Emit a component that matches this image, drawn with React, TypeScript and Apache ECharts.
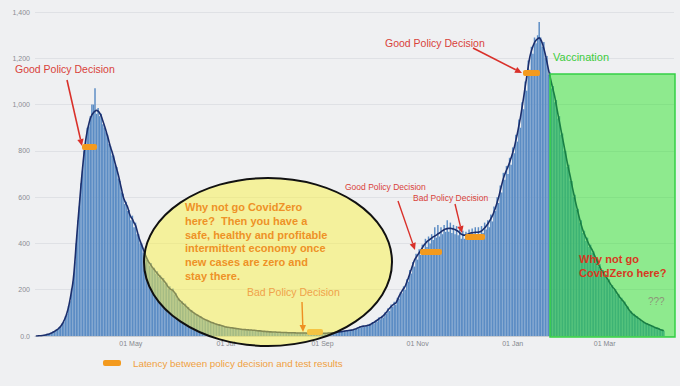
import React, { useEffect, useRef } from "react";
import * as echarts from "echarts";

// Daily new cases (bars), from 2020-03-01
const DAILY_CASES: number[] = [
  0, 0, 1, 2, 1, 3, 5, 5, 9, 11,
  12, 18, 19, 27, 28, 38, 40, 55, 60, 85,
  95, 130, 150, 205, 235, 320, 400, 500, 560, 660,
  715, 800, 830, 900, 905, 950, 1000, 1000, 1070, 960,
  985, 950, 960, 915, 900, 880, 870, 830, 820, 780,
  780, 740, 730, 680, 670, 620, 615, 570, 580, 540,
  545, 500, 520, 470, 490, 440, 440, 400, 400, 360,
  365, 330, 330, 305, 315, 290, 295, 270, 280, 255,
  262, 240, 250, 225, 230, 205, 215, 195, 205, 180,
  185, 160, 162, 145, 150, 132, 140, 120, 125, 108,
  112, 98, 100, 90, 92, 82, 84, 74, 76, 68,
  70, 62, 63, 56, 58, 51, 53, 47, 49, 43,
  45, 40, 41, 37, 38, 35, 36, 33, 34, 31,
  32, 29, 30, 27, 29, 26, 28, 25, 27, 24,
  26, 23, 24, 21, 23, 20, 21, 19, 20, 18,
  19, 17, 18, 16, 18, 16, 17, 15, 16, 14,
  16, 14, 15, 13, 15, 13, 15, 12, 14, 12,
  14, 12, 14, 12, 13, 11, 13, 11, 13, 11,
  13, 11, 13, 11, 13, 11, 13, 12, 14, 12,
  15, 13, 16, 15, 18, 17, 20, 19, 22, 21,
  24, 22, 27, 25, 30, 28, 36, 33, 42, 38,
  45, 40, 47, 43, 52, 48, 60, 54, 68, 62,
  80, 72, 88, 80, 102, 96, 120, 108, 136, 126,
  148, 135, 165, 160, 190, 185, 215, 200, 245, 235,
  285, 270, 320, 300, 355, 330, 375, 350, 395, 370,
  420, 385, 430, 400, 440, 415, 470, 425, 480, 430,
  470, 440, 480, 450, 500, 450, 490, 445, 480, 440,
  475, 435, 460, 420, 455, 420, 450, 425, 460, 430,
  465, 430, 470, 425, 470, 435, 475, 445, 490, 460,
  500, 470, 525, 495, 560, 540, 600, 575, 650, 620,
  705, 675, 735, 700, 770, 740, 815, 790, 870, 840,
  935, 900, 1010, 980, 1100, 1060, 1190, 1150, 1250, 1220,
  1290, 1265, 1300, 1357, 1290, 1250, 1270, 1200, 1210, 1130,
  1140, 1070, 1080, 1010, 1020, 940, 950, 870, 875, 800,
  800, 730, 740, 670, 670, 600, 610, 545, 550, 490,
  500, 445, 455, 410, 425, 385, 395, 360, 365, 330,
  335, 300, 310, 275, 285, 255, 265, 240, 245, 215,
  220, 198, 202, 178, 182, 158, 165, 145, 148, 125,
  128, 105, 108, 92, 96, 82, 85, 72, 74, 62,
  64, 54, 56, 48, 50, 42, 44, 37, 38, 32,
  33, 26, 28, 23,
];

// Smoothed trend (line)
const TREND: number[] = [
  0, 0, 1, 1, 2, 3, 4, 6, 8, 10,
  13, 16, 20, 24, 29, 35, 42, 52, 65, 80,
  100, 125, 158, 197, 240, 315, 405, 490, 570, 650,
  725, 790, 845, 885, 915, 940, 955, 965, 972, 975,
  972, 963, 950, 930, 910, 888, 865, 840, 815, 795,
  770, 745, 720, 695, 665, 635, 605, 585, 570, 555,
  530, 515, 505, 490, 478, 455, 430, 410, 392, 375,
  355, 340, 325, 315, 305, 295, 287, 278, 270, 262,
  255, 248, 240, 232, 222, 212, 205, 200, 196, 188,
  178, 166, 156, 150, 143, 137, 131, 125, 118, 112,
  107, 102, 97, 93, 89, 85, 81, 77, 73, 70,
  67, 64, 61, 58, 56, 53, 51, 49, 47, 45,
  43, 41, 39, 38, 37, 36, 35, 34, 33, 32,
  31, 30, 29, 28, 28, 27, 27, 26, 26, 25,
  25, 24, 23, 22, 22, 21, 20, 20, 19, 19,
  18, 18, 17, 17, 17, 16, 16, 16, 15, 15,
  15, 15, 14, 14, 14, 14, 14, 13, 13, 13,
  13, 13, 13, 13, 12, 12, 12, 12, 12, 12,
  12, 12, 12, 12, 12, 12, 12, 12, 13, 13,
  14, 14, 15, 16, 17, 18, 19, 20, 21, 22,
  23, 24, 25, 26, 28, 30, 33, 36, 39, 41,
  42, 43, 44, 46, 48, 51, 55, 59, 63, 68,
  73, 78, 82, 88, 95, 103, 112, 120, 127, 134,
  139, 143, 155, 170, 183, 195, 205, 215, 232, 250,
  270, 290, 310, 328, 340, 350, 360, 370, 381, 392,
  400, 408, 413, 418, 423, 428, 432, 436, 441, 445,
  450, 455, 459, 462, 464, 465, 465, 464, 462, 460,
  456, 452, 446, 440, 437, 436, 437, 440, 442, 445,
  446, 447, 448, 448, 449, 450, 454, 460, 467, 475,
  484, 495, 507, 520, 537, 555, 577, 600, 627, 655,
  680, 700, 716, 732, 750, 770, 792, 815, 845, 875,
  910, 946, 988, 1030, 1076, 1120, 1165, 1206, 1232, 1252,
  1268, 1278, 1284, 1288, 1280, 1265, 1242, 1215, 1183, 1150,
  1120, 1090, 1062, 1033, 997, 960, 925, 890, 855, 820,
  785, 750, 718, 687, 652, 620, 590, 560, 532, 505,
  480, 458, 440, 425, 410, 395, 383, 372, 356, 340,
  325, 310, 297, 285, 275, 265, 255, 245, 233, 222,
  212, 205, 195, 185, 175, 165, 157, 150, 140, 130,
  120, 110, 102, 95, 90, 85, 80, 75, 70, 65,
  60, 56, 53, 50, 47, 44, 41, 38, 35, 33,
  30, 27, 25, 24,
];

const TOTAL_DAYS = 410; // axis extends a few days past the data
const START_UTC = Date.UTC(2020, 2, 1);
const MONTHS = ["Jan", "Feb", "Mar", "Apr", "May", "Jun", "Jul", "Aug", "Sep", "Oct", "Nov", "Dec"];
const DATES: string[] = Array.from({ length: TOTAL_DAYS }, (_, i) =>
  new Date(START_UTC + i * 86400000).toISOString().slice(0, 10)
);
const TICK_DATES = ["2020-05-01", "2020-07-01", "2020-09-01", "2020-11-01", "2021-01-01", "2021-03-01"];
const Y_TICKS = [0, 200, 400, 600, 800, 1000, 1200, 1400];

const FONT = '"Liberation Sans", Arial, sans-serif';
const RED = "#d9423a";
const ORANGE = "#ee9227";
const MARK = "#f39a1e";

function arrow(x1: number, y1: number, x2: number, y2: number, color: string, w = 1.6) {
  const a = Math.atan2(y2 - y1, x2 - x1);
  const L = 7, W = 3.2;
  const bx = x2 - L * Math.cos(a), by = y2 - L * Math.sin(a);
  return [
    { type: "line", z: 120, shape: { x1, y1, x2: bx, y2: by }, style: { stroke: color, lineWidth: w } },
    {
      type: "polygon", z: 120,
      shape: { points: [[x2, y2], [bx + W * Math.sin(a), by - W * Math.cos(a)], [bx - W * Math.sin(a), by + W * Math.cos(a)]] },
      style: { fill: color },
    },
  ];
}

function marker(x: number, y: number, w: number, color = MARK) {
  return { type: "rect", z: 121, shape: { x, y, width: w, height: 6, r: 2 }, style: { fill: color } };
}

function label(text: string, x: number, y: number, size: number, fill: string, weight = "normal", extra: any = {}) {
  return {
    type: "text", z: 122, x, y,
    style: { text, fill, fontSize: size, fontFamily: FONT, fontWeight: weight, align: "left", verticalAlign: "middle", ...extra },
  };
}

export default function App() {
  const ref = useRef<HTMLDivElement>(null);
  useEffect(() => {
    document.body.style.margin = "0";
    document.body.style.background = "#eff0f2";
    const chart = echarts.init(ref.current!, null, { renderer: "svg" });
    const isTick = (_i: number, v: string) => TICK_DATES.includes(v);
    const bars = DATES.map((_, i) => (i < DAILY_CASES.length ? DAILY_CASES[i] : null));
    const line = DATES.map((_, i) => (i < TREND.length ? TREND[i] : null));
    chart.setOption({
      animation: false,
      backgroundColor: "#eff0f2",
      grid: { left: 35, right: 6, top: 12, bottom: 50 },
      xAxis: {
        type: "category",
        data: DATES,
        boundaryGap: true,
        axisLine: { lineStyle: { color: "#c9ccd1", width: 1 } },
        axisTick: { interval: isTick, alignWithLabel: true, length: 3, lineStyle: { color: "#9a9da3" } },
        axisLabel: {
          interval: isTick,
          margin: 4,
          color: "#85888e",
          fontSize: 7,
          fontFamily: FONT,
          formatter: (v: string) => {
            const d = new Date(v + "T00:00:00Z");
            return "01 " + MONTHS[d.getUTCMonth()];
          },
        },
      },
      yAxis: {
        type: "value",
        min: Y_TICKS[0],
        max: Y_TICKS[Y_TICKS.length - 1],
        interval: 200,
        axisLine: { show: false },
        axisTick: { show: false },
        splitLine: { lineStyle: { color: "#dfe1e5", width: 1 } },
        axisLabel: {
          color: "#8a8d93",
          fontSize: 7,
          fontFamily: FONT,
          margin: 5,
          formatter: (v: number) => (v === 0 ? "0.0" : v.toLocaleString("en-US")),
        },
      },
      series: [
        {
          type: "bar",
          data: bars,
          barCategoryGap: "6%",
          itemStyle: { color: "#5b8cc4" },
          z: 2,
        },
        {
          type: "line",
          data: line,
          smooth: true,
          symbol: "none",
          lineStyle: { color: "#1b2e6c", width: 1.6 },
          z: 3,
        },
      ],
      graphic: [
        // yellow ellipse
        {
          type: "ellipse", z: 100,
          shape: { cx: 268, cy: 262, rx: 124, ry: 84 },
          style: { fill: "rgba(250,242,60,0.47)", stroke: "#111", lineWidth: 2 },
        },
        // green vaccination rect
        {
          type: "rect", z: 100,
          shape: { x: 550, y: 74, width: 125, height: 263 },
          style: { fill: "rgba(24,226,20,0.45)", stroke: "#35cf45", lineWidth: 1.5 },
        },
        label("Good Policy Decision", 15, 69, 10.5, RED),
        ...arrow(67, 80, 82, 146, "#d9302a"),
        marker(82, 144, 15),
        label("Good Policy Decision", 345, 187, 8.5, RED),
        ...arrow(398, 201, 415, 250, "#d9302a", 1.4),
        marker(420, 249, 22),
        label("Bad Policy Decision", 413, 198, 8.5, RED),
        ...arrow(455, 204, 462, 233, "#d9302a", 1.4),
        marker(465, 234, 20),
        label("Good Policy Decision", 385, 43, 10.5, RED),
        ...arrow(473, 48, 522, 73, "#d9302a"),
        marker(523, 70, 17),
        label("Vaccination", 553, 57, 11, "#3dcc3d"),
        label(
          "Why not go CovidZero\nhere?  Then you have a\nsafe, healthy and profitable\nintermittent economy once\nnew cases are zero and\nstay there.",
          185, 200, 11, ORANGE, "bold", { verticalAlign: "top", lineHeight: 13.8 }
        ),
        label("Bad Policy Decision", 247, 292, 10.5, "#f0a24a"),
        ...arrow(302, 302, 303, 332, "#ee8f22", 1.4),
        marker(307, 329, 16, "#f5c443"),
        label("Why not go\nCovidZero here?", 579, 266, 11, "#d8391f", "bold", { lineHeight: 14 }),
        label("???", 648, 301, 10, "#8d9679"),
        // legend
        marker(103, 360, 18),
        label("Latency between policy decision and test results", 133, 363, 9.8, "#f0a040"),
      ],
    });
    return () => chart.dispose();
  }, []);
  return <div ref={ref} style={{ width: 680, height: 386, background: "#eff0f2" }} />;
}
